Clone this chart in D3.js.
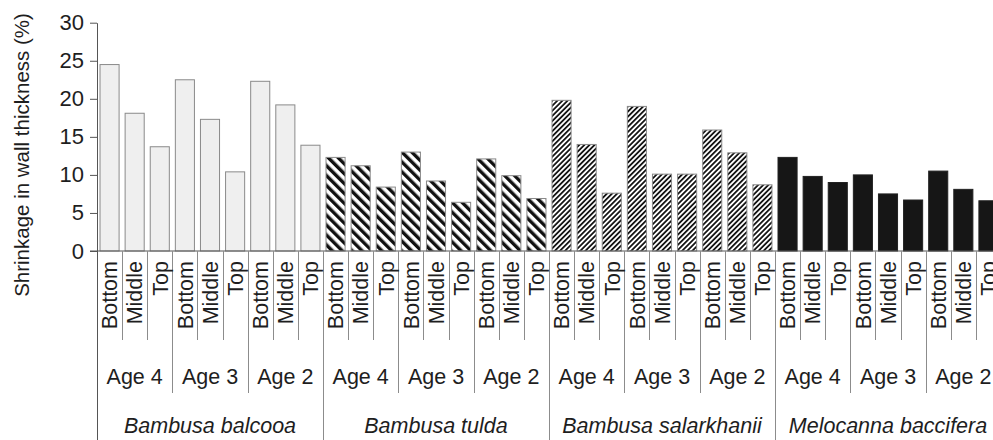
<!DOCTYPE html>
<html>
<head>
<meta charset="utf-8">
<script src="https://cdn.jsdelivr.net/npm/d3@7"></script>
<style>
  body { margin: 0; background: #fff; }
  text { font-family: "Liberation Sans", Arial, Helvetica, sans-serif; fill: #1e1e1e; }
</style>
</head>
<body>
<script>
const species = ["Bambusa balcooa", "Bambusa tulda", "Bambusa salarkhanii", "Melocanna baccifera"];
const ages = ["Age 4", "Age 3", "Age 2"];
const positions = ["Bottom", "Middle", "Top"];

// shrinkage (%) per species, ordered Age 4 (B, M, T), Age 3 (B, M, T), Age 2 (B, M, T)
const balcooa     = [24.5, 18.1, 13.7, 22.5, 17.3, 10.4, 22.3, 19.2, 13.9];
const tulda       = [12.3, 11.2, 8.4, 13.0, 9.2, 6.4, 12.1, 9.9, 6.9];
const salarkhanii = [19.8, 14.0, 7.6, 19.0, 10.1, 10.1, 15.9, 12.9, 8.7];
const melocanna   = [12.3, 9.8, 9.0, 10.0, 7.5, 6.7, 10.5, 8.1, 6.6];

const yTicks = [0, 5, 10, 15, 20, 25, 30];

const drawViz = () => {
	const width = 993;
	const height = 440;
	const margin = {left: 97, top: 22.7, zero: 251};

	const series = [balcooa, tulda, salarkhanii, melocanna];
	const data = [];
	series.forEach((vals, s) => {
		vals.forEach((v, i) => {
			data.push({
				key: s + "-" + i,
				species: s,
				age: Math.floor(i / 3),
				pos: i % 3,
				value: v
			});
		});
	});

	const svg = d3.select('body')
		.append('svg')
		.attr('width', width)
		.attr('height', height);

	const defs = svg.append('defs');

	// wide backslash stripes (B. tulda)
	const p1 = defs.append('pattern')
		.attr('id', 'stripeWide')
		.attr('patternUnits', 'userSpaceOnUse')
		.attr('width', 7).attr('height', 7)
		.attr('patternTransform', 'rotate(-45)');
	p1.append('rect').attr('width', 7).attr('height', 7).attr('fill', '#fff');
	p1.append('rect').attr('width', 3.4).attr('height', 7).attr('fill', '#111');

	// fine slash stripes (B. salarkhanii)
	const p2 = defs.append('pattern')
		.attr('id', 'stripeFine')
		.attr('patternUnits', 'userSpaceOnUse')
		.attr('width', 3.6).attr('height', 3.6)
		.attr('patternTransform', 'rotate(45)');
	p2.append('rect').attr('width', 3.6).attr('height', 3.6).attr('fill', '#fff');
	p2.append('rect').attr('width', 1.8).attr('height', 3.6).attr('fill', '#151515');

	const fills = ['#efefef', 'url(#stripeWide)', 'url(#stripeFine)', '#161616'];
	const strokes = ['#8a8a8a', '#8a8a8a', '#8a8a8a', '#222'];

	const x = d3.scaleBand()
		.domain(data.map(d => d.key))
		.range([margin.left, 1001])
		.paddingInner(0.24)
		.paddingOuter(0.12);

	const step = x.step();
	const bandStart = d => x(d.key) - step * 0.12;

	const y = d3.scaleLinear()
		.domain([0, 30])
		.range([margin.zero, margin.top]);

	// bars
	svg.append('g')
		.selectAll('rect')
		.data(data)
		.enter().append('rect')
		.attr('x', d => x(d.key))
		.attr('y', d => y(d.value))
		.attr('width', x.bandwidth())
		.attr('height', d => y(0) - y(d.value))
		.attr('fill', d => fills[d.species])
		.attr('stroke', d => strokes[d.species])
		.attr('stroke-width', 1);

	// y axis
	const yAxis = d3.axisLeft(y)
		.tickValues(yTicks)
		.tickSize(7)
		.tickSizeOuter(0)
		.tickPadding(6);

	const ga = svg.append('g')
		.attr('transform', `translate(${margin.left},0)`)
		.call(yAxis);
	ga.select('.domain').attr('stroke', '#555');
	ga.selectAll('.tick line').attr('stroke', '#555');
	ga.selectAll('.tick text')
		.style('font-size', '22px')
		.attr('fill', '#1e1e1e');

	// y axis title
	svg.append('text')
		.attr('transform', `translate(29, 155) rotate(-90)`)
		.attr('text-anchor', 'middle')
		.style('font-size', '20.5px')
		.text('Shrinkage in wall thickness (%)');

	// baseline
	svg.append('line')
		.attr('x1', margin.left - 7).attr('x2', width)
		.attr('y1', y(0)).attr('y2', y(0))
		.attr('stroke', '#555');

	// hierarchical category axis: separators
	const lines = svg.append('g').attr('stroke', '#8c8c8c').attr('stroke-width', 1);
	data.forEach((d, i) => {
		const xs = Math.round(bandStart(d)) + 0.5;
		let bottom;
		if (i === 0 || d.age === 0 && d.pos === 0) bottom = height;
		else if (d.pos === 0) bottom = 393;
		else bottom = 340;
		lines.append('line')
			.attr('x1', xs).attr('x2', xs)
			.attr('y1', y(0)).attr('y2', bottom)
			.attr('stroke', i === 0 ? '#555' : null);
	});

	// position labels (rotated)
	svg.append('g')
		.selectAll('text')
		.data(data)
		.enter().append('text')
		.attr('transform', d => `translate(${x(d.key) + x.bandwidth() / 2}, 261) rotate(-90)`)
		.attr('dy', '0.36em')
		.attr('text-anchor', 'end')
		.style('font-size', '21.5px')
		.text(d => positions[d.pos]);

	// age labels
	const ageGroups = [];
	species.forEach((sp, s) => {
		ages.forEach((a, ai) => {
			const first = data.find(d => d.species === s && d.age === ai && d.pos === 0);
			ageGroups.push({label: a, cx: bandStart(first) + step * 1.5});
		});
	});
	svg.append('g')
		.selectAll('text')
		.data(ageGroups)
		.enter().append('text')
		.attr('x', d => d.cx)
		.attr('y', 384)
		.attr('text-anchor', 'middle')
		.style('font-size', '21.5px')
		.text(d => d.label);

	// species labels
	svg.append('g')
		.selectAll('text')
		.data(species)
		.enter().append('text')
		.attr('x', (d, s) => bandStart(data[s * 9]) + step * 4.5)
		.attr('y', 433)
		.attr('text-anchor', 'middle')
		.style('font-size', '21.5px')
		.style('font-style', 'italic')
		.text(d => d);
};

drawViz();
</script>
</body>
</html>
